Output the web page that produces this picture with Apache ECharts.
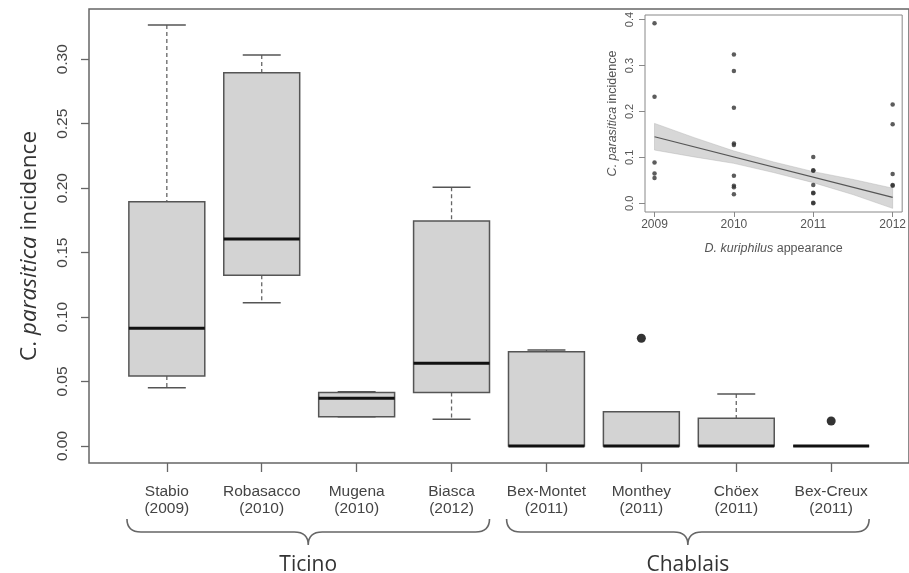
<!DOCTYPE html>
<html>
<head>
<meta charset="utf-8">
<script src="https://cdn.jsdelivr.net/npm/echarts@6/dist/echarts.min.js"></script>
<style>html,body{margin:0;padding:0;background:#fff}#c{width:909px;height:573px}</style>
</head>
<body>
<div id="c"></div>
<script>
// ---- main boxplot data ----
var sites = ['Stabio', 'Robasacco', 'Mugena', 'Biasca', 'Bex-Montet', 'Monthey', 'Chöex', 'Bex-Creux'];
var years = ['2009', '2010', '2010', '2012', '2011', '2011', '2011', '2011'];
var whiskerLow  = [0.0452, 0.1112, 0.0227, 0.0207, 0, 0, 0, 0];
var q1          = [0.0543, 0.1324, 0.0227, 0.0414, 0, 0, 0, 0];
var medians     = [0.0913, 0.1606, 0.0370, 0.0642, 0, 0, 0, 0];
var q3          = [0.1895, 0.2896, 0.0414, 0.1746, 0.0732, 0.0266, 0.0215, 0];
var whiskerHigh = [0.3266, 0.3033, 0.0420, 0.2007, 0.0745, 0.0266, 0.0403, 0];
var outlierSite = [6, 8];
var outlierValue = [0.0836, 0.0194];
var yTicks = [0, 0.05, 0.10, 0.15, 0.20, 0.25, 0.30];
var groups = ['Ticino', 'Chablais'];
var groupFirst = [1, 5];
var groupLast = [4, 8];

// ---- inset regression data ----
var inset2009 = [0.392, 0.232, 0.089, 0.065, 0.055];
var inset2010 = [0.324, 0.288, 0.208, 0.130, 0.127, 0.060, 0.038, 0.035, 0.020];
var inset2011 = [0.101, 0.072, 0.071, 0.040, 0.023, 0.022, 0.001, 0.0];
var inset2012 = [0.215, 0.172, 0.064, 0.040, 0.038];
var fitYears = [2009, 2012];
var fitValues = [0.145, 0.013];
var bandYears = [2009, 2009.5, 2010, 2010.5, 2011, 2011.5, 2012];
var bandUpper = [0.174, 0.143, 0.114, 0.090, 0.069, 0.052, 0.033];
var bandLower = [0.116, 0.101, 0.087, 0.067, 0.045, 0.019, -0.011];
var insetXTicks = [2009, 2010, 2011, 2012];
var insetYTicks = [0, 0.1, 0.2, 0.3, 0.4];

var boxData = sites.map(function (s, i) {
  return [i + 1, whiskerLow[i], q1[i], medians[i], q3[i], whiskerHigh[i]];
});
var outData = outlierSite.map(function (s, i) { return [s, outlierValue[i]]; });
var insetPts = [];
[[2009, inset2009], [2010, inset2010], [2011, inset2011], [2012, inset2012]].forEach(function (g) {
  g[1].forEach(function (v) { insetPts.push([g[0], v]); });
});
var bandData = [[2009, 0]];
var groupData = groups.map(function (g, i) { return [groupFirst[i], groupLast[i], i]; });

var tickFont = 'Liberation Sans, Arial, sans-serif';
var titleFont = 'Open Sans, sans-serif';

function bracePath(x0, x1, yTop, yLine, yTip) {
  var m = (x0 + x1) / 2, r = 14;
  return 'M' + x0 + ',' + yTop + ' Q' + x0 + ',' + yLine + ' ' + (x0 + r) + ',' + yLine +
    ' L' + (m - r) + ',' + yLine + ' Q' + m + ',' + yLine + ' ' + m + ',' + yTip +
    ' Q' + m + ',' + yLine + ' ' + (m + r) + ',' + yLine +
    ' L' + (x1 - r) + ',' + yLine + ' Q' + x1 + ',' + yLine + ' ' + x1 + ',' + yTop;
}

var chart = echarts.init(document.getElementById('c'), null, { renderer: 'canvas' });
var option = {
  animation: false,
  backgroundColor: '#fff',
  grid: [
    { left: 89, top: 9, width: 824, height: 454, show: true, borderColor: '#666', borderWidth: 1.5, backgroundColor: 'transparent' },
    { left: 645, top: 15, width: 260, height: 197, show: true, borderColor: '#888', borderWidth: 1, backgroundColor: '#fff', z: 5 }
  ],
  xAxis: [
    {
      gridIndex: 0, type: 'value', min: 0.18, max: 8.82,
      splitLine: { show: false }, axisLine: { show: false, onZero: false },
      axisTick: { show: true, length: 9, lineStyle: { color: '#666', width: 1.3 }, customValues: [1, 2, 3, 4, 5, 6, 7, 8] },
      axisLabel: {
        customValues: [1, 2, 3, 4, 5, 6, 7, 8], margin: 20,
        fontFamily: tickFont, fontSize: 15.5, color: '#444', lineHeight: 17,
        formatter: function (v) { var i = Math.round(v) - 1; return sites[i] + '\n(' + years[i] + ')'; }
      }
    },
    {
      gridIndex: 1, type: 'value', min: 2008.88, max: 2012.12,
      splitLine: { show: false }, axisLine: { show: false, onZero: false },
      axisTick: { show: true, length: 5, lineStyle: { color: '#888' }, customValues: insetXTicks },
      axisLabel: { customValues: insetXTicks, margin: 7, fontFamily: tickFont, fontSize: 12, color: '#555', formatter: function (v) { return String(Math.round(v)); } },
      name: '{i|D. kuriphilus} appearance', nameLocation: 'middle', nameGap: 30,
      nameTextStyle: { fontFamily: tickFont, fontSize: 12.5, color: '#555', rich: { i: { fontStyle: 'italic', fontFamily: tickFont, fontSize: 12.5, color: '#555' } } }
    }
  ],
  yAxis: [
    {
      gridIndex: 0, type: 'value', min: -0.0132, max: 0.339,
      splitLine: { show: false }, axisLine: { show: false, onZero: false },
      axisTick: { show: true, length: 8, lineStyle: { color: '#666', width: 1.3 }, customValues: yTicks },
      axisLabel: { customValues: yTicks, rotate: 90, margin: 18, fontFamily: tickFont, fontSize: 15.5, color: '#444', formatter: function (v) { return v.toFixed(2); } },
      name: '{n|C. }{i|parasitica}{n| incidence}', nameLocation: 'middle', nameRotate: 90, nameGap: 48,
      nameTextStyle: {
        padding: [0, 20, 0, 0], fontFamily: titleFont, fontSize: 22.5, color: '#333',
        rich: { n: { fontFamily: titleFont, fontSize: 22.5, color: '#333' }, i: { fontFamily: titleFont, fontStyle: 'italic', fontSize: 22.5, color: '#333' } }
      }
    },
    {
      gridIndex: 1, type: 'value', min: -0.0189, max: 0.410,
      splitLine: { show: false }, axisLine: { show: false, onZero: false },
      axisTick: { show: true, length: 6, lineStyle: { color: '#888' }, customValues: insetYTicks },
      axisLabel: { customValues: insetYTicks, rotate: 90, margin: 10, fontFamily: tickFont, fontSize: 11, color: '#555', formatter: function (v) { return v.toFixed(1); } },
      name: '{i|C. parasitica} incidence', nameLocation: 'middle', nameRotate: 90, nameGap: 26,
      nameTextStyle: { fontFamily: tickFont, fontSize: 12.5, color: '#555', rich: { i: { fontStyle: 'italic', fontFamily: tickFont, fontSize: 12.5, color: '#555' } } }
    }
  ],
  series: [
    {
      type: 'custom', xAxisIndex: 0, yAxisIndex: 0, data: boxData,
      encode: { x: 0, y: [1, 2, 3, 4, 5] },
      renderItem: function (params, api) {
        var x = api.value(0);
        var lo = api.coord([x, api.value(1)]);
        var b1 = api.coord([x, api.value(2)]);
        var md = api.coord([x, api.value(3)]);
        var b3 = api.coord([x, api.value(4)]);
        var hi = api.coord([x, api.value(5)]);
        var half = api.size([0.8, 0])[0] / 2;
        var cap = half / 2;
        var cx = lo[0];
        var dash = { stroke: '#666', lineWidth: 1.3, lineDash: [4, 3] };
        var solid = { stroke: '#555', lineWidth: 1.5 };
        return {
          type: 'group', children: [
            { type: 'line', shape: { x1: cx, y1: hi[1], x2: cx, y2: b3[1] }, style: dash },
            { type: 'line', shape: { x1: cx, y1: b1[1], x2: cx, y2: lo[1] }, style: dash },
            { type: 'line', shape: { x1: cx - cap, y1: hi[1], x2: cx + cap, y2: hi[1] }, style: solid },
            { type: 'line', shape: { x1: cx - cap, y1: lo[1], x2: cx + cap, y2: lo[1] }, style: solid },
            { type: 'rect', shape: { x: cx - half, y: b3[1], width: 2 * half, height: b1[1] - b3[1] }, style: { fill: '#d3d3d3', stroke: '#555', lineWidth: 1.5 } },
            { type: 'line', shape: { x1: cx - half, y1: md[1], x2: cx + half, y2: md[1] }, style: { stroke: '#111', lineWidth: 3 } }
          ]
        };
      }
    },
    {
      type: 'scatter', xAxisIndex: 0, yAxisIndex: 0, data: outData,
      symbol: 'circle', symbolSize: 9, itemStyle: { color: '#000' }
    },
    {
      // group braces (Ticino / Chablais) below the category labels
      type: 'custom', xAxisIndex: 0, yAxisIndex: 0, data: groupData, clip: false, silent: true,
      encode: { x: [0, 1] },
      renderItem: function (params, api) {
        var xa = api.coord([api.value(0) - 0.42, 0])[0];
        var xb = api.coord([api.value(1) + 0.4, 0])[0];
        var name = groups[api.value(2)];
        return {
          type: 'group', children: [
            { type: 'path', shape: { pathData: bracePath(xa, xb, 519, 532, 545) }, style: { fill: 'none', stroke: '#666', lineWidth: 1.6 } },
            { type: 'text', x: (xa + xb) / 2, y: 565, style: { text: name, fontFamily: titleFont, fontSize: 21, fill: '#333', align: 'center', verticalAlign: 'middle' } }
          ]
        };
      }
    },
    {
      type: 'custom', xAxisIndex: 1, yAxisIndex: 1, data: bandData, z: 6, silent: true,
      renderItem: function (params, api) {
        var up = [], lo = [];
        bandYears.forEach(function (y, i) {
          up.push(api.coord([y, bandUpper[i]]));
          lo.push(api.coord([y, bandLower[i]]));
        });
        var pts = up.concat(lo.reverse());
        return { type: 'polygon', shape: { points: pts }, style: { fill: 'rgba(160,160,160,0.42)', stroke: 'rgba(170,170,170,0.5)', lineWidth: 0.8 } };
      }
    },
    {
      type: 'line', xAxisIndex: 1, yAxisIndex: 1, z: 7,
      data: fitYears.map(function (y, i) { return [y, fitValues[i]]; }),
      symbol: 'none', lineStyle: { color: '#555', width: 1.2 }
    },
    {
      type: 'scatter', xAxisIndex: 1, yAxisIndex: 1, z: 8, data: insetPts,
      symbol: 'circle', symbolSize: 4.5, itemStyle: { color: '#333' }
    }
  ]
};
chart.setOption(option);
</script>
</body>
</html>
